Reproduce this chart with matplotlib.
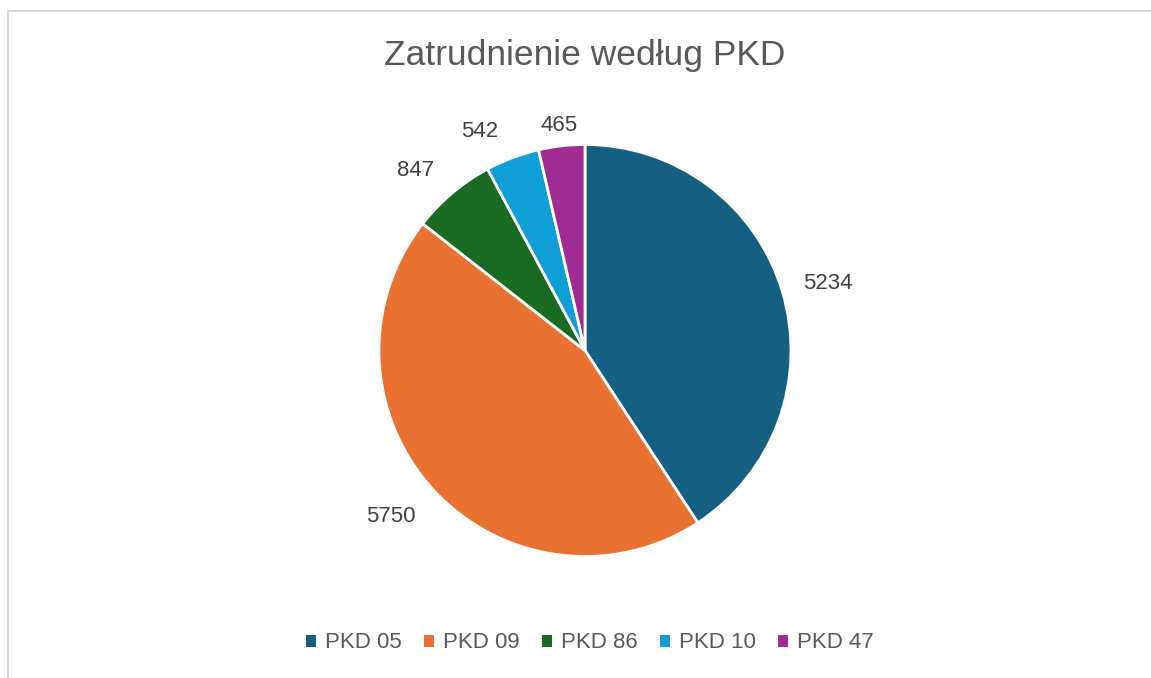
import numpy as np
import matplotlib
matplotlib.use("Agg")
import matplotlib.pyplot as plt
from matplotlib.patches import Patch

# dane
CATEGORIES = ["PKD 05", "PKD 09", "PKD 86", "PKD 10", "PKD 47"]
VALUES = [5234, 5750, 847, 542, 465]
COLORS = ["#156082", "#E97132", "#196B24", "#0F9ED5", "#A02B93"]
TITLE = "Zatrudnienie według PKD"

# położenie etykiet: odległość (w promieniach) i przesunięcie kąta (stopnie)
LABEL_R = [1.225, 1.24, 1.20, 1.18, 1.097]
LABEL_DA = [-1.2, -2.2, 3.3, 5.0, 0.0]

plt.rcParams["font.family"] = ["Liberation Sans", "DejaVu Sans"]
TEXT_COLOR = "#595959"

W, H = 1151, 678
fig = plt.figure(figsize=(W / 100, H / 100), dpi=100)

# ramka wykresu
frame = fig.add_axes([0, 0, 1, 1])
frame.set_xlim(0, W)
frame.set_ylim(H, 0)
frame.axis("off")
frame.plot([8.5, 8.5, W + 5], [H + 5, 10.5, 10.5], color="#D9D9D9", lw=1.5)

# koło
r_px = 206
cx, cy = 585, 350.5
half = 1.5 * r_px
ax = fig.add_axes([(cx - half) / W, (H - cy - half) / H, 2 * half / W, 2 * half / H])
wedges, _ = ax.pie(VALUES, colors=COLORS, startangle=90, counterclock=False,
                   radius=1.0, wedgeprops=dict(edgecolor="white", linewidth=2))
ax.set_xlim(-1.5, 1.5)
ax.set_ylim(-1.5, 1.5)
ax.set_aspect("equal")
ax.axis("off")

for w, v, lr, da in zip(wedges, VALUES, LABEL_R, LABEL_DA):
    ang = np.deg2rad((w.theta1 + w.theta2) / 2 + da)
    ax.text(lr * np.cos(ang), lr * np.sin(ang), f"{v}", ha="center", va="center",
            fontsize=16, color="#404040")

fig.text(cx / W, 1 - 55 / H, TITLE, ha="center", va="center", fontsize=25.5, color=TEXT_COLOR)

handles = [Patch(facecolor=c, edgecolor="none") for c in COLORS]
fig.legend(handles, CATEGORIES, loc="center", bbox_to_anchor=(590 / W, 1 - 643 / H),
           ncol=5, frameon=False, fontsize=16, labelcolor=TEXT_COLOR,
           handlelength=0.45, handleheight=0.45, handletextpad=0.4, columnspacing=1.0)

fig.savefig("out.png", dpi=100)
